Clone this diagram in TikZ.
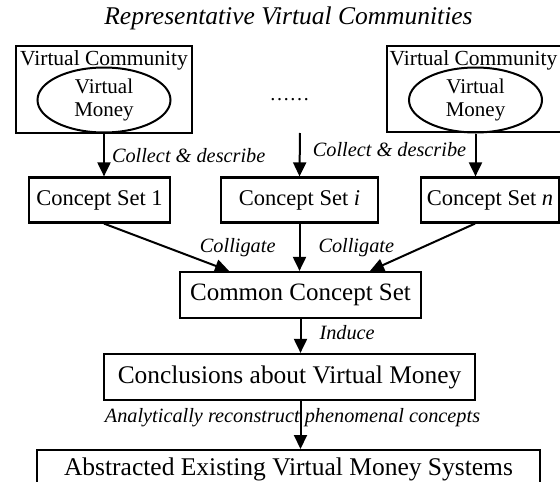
\documentclass[tikz,border=0pt]{standalone}
\usepackage{fontspec}
\setmainfont{Liberation Serif}
\usetikzlibrary{arrows.meta,shapes.geometric}
\tikzset{
  box/.style={draw, line width=2.2pt, inner sep=0pt},
  bag/.style={draw, ellipse, line width=2pt, inner sep=0pt, align=center,
    font=\fontsize{21}{22.5}\selectfont},
  lbl/.style={font=\fontsize{20.3}{22}\selectfont\itshape, inner sep=0pt},
}
\begin{document}
\begin{tikzpicture}[x=1pt, y=-1pt, >={Triangle[length=14pt,width=13pt]}, line width=2pt]
\useasboundingbox (0,0) rectangle (560,482);
\node[lbl, font=\fontsize{25.5}{27}\selectfont\itshape] (title) at (288.5,18) {Representative Virtual Communities};

% communities
\node[box, minimum width=176pt, minimum height=87pt] (vc1) at (104,89.5) {};
\node[font=\fontsize{21.5}{23}\selectfont] (vc1t) at (104,60) {Virtual Community};
\node[bag, minimum width=133pt, minimum height=65pt] (vm1) at (104,100) {Virtual\\Money};

\node[box, minimum width=178pt, minimum height=86pt] (vc2) at (476,89) {};
\node[font=\fontsize{21.5}{23}\selectfont] (vc2t) at (473.5,60) {Virtual Community};
\node[bag, minimum width=133pt, minimum height=65pt] (vm2) at (475.5,100) {Virtual\\Money};

\node[font=\fontsize{20}{22}\selectfont, anchor=base] (dots) at (289.5,100) {……};
\coordinate (mid) at (300,133);

% concept sets
\node[box, minimum width=141pt, minimum height=45pt, font=\fontsize{22.5}{24}\selectfont] (cs1) at (99.5,200) {Concept Set 1};
\node[box, minimum width=157pt, minimum height=45pt, font=\fontsize{22.5}{24}\selectfont] (csi) at (299.5,200) {Concept Set \textit{i}};
\node[box, minimum width=138pt, minimum height=45pt, font=\fontsize{22.5}{24}\selectfont] (csn) at (490,200) {Concept Set \textit{n}};

\node[box, minimum width=241pt, minimum height=46pt, font=\fontsize{25}{27}\selectfont] (ccs) at (300.5,295) {Common Concept Set};
\node[box, minimum width=371pt, minimum height=46pt, font=\fontsize{25.4}{27}\selectfont] (concl) at (289.5,377) {Conclusions about Virtual Money};
\node[box, minimum width=503pt, anchor=north, text height=25pt, text depth=30pt, font=\fontsize{25.5}{27}\selectfont] (abs) at (288.5,449) {Abstracted Existing Virtual Money Systems};

% connectors
\draw[->] (vc1.south) -- (vc1.south |- cs1.north) node[lbl, midway, right=7pt] {Collect \& describe};
\draw[->] (mid) -- (csi.north) node[lbl, pos=0.38, right=12pt] {Collect \& describe};
\draw[->] (vm2.south) -- (vm2.south |- csn.north);

\draw[->] ([xshift=4.5pt]cs1.south) -- ([xshift=-71.5pt]ccs.north);
\draw[->] (csi.south) -- (csi.south |- ccs.north)
  node[lbl, midway, left=23pt] {Colligate}
  node[lbl, midway, right=18pt] {Colligate};
\draw[->] ([xshift=-15pt]csn.south) -- ([xshift=69.5pt]ccs.north);

\draw[->] (ccs.south) -- (ccs.south |- concl.north) node[lbl, pos=0.4, right=18pt] {Induce};
\draw[->] (ccs.south |- concl.south) -- (ccs.south |- abs.north)
  node[lbl, pos=0.35, xshift=-8pt] {Analytically reconstruct phenomenal concepts};
\end{tikzpicture}
\end{document}
